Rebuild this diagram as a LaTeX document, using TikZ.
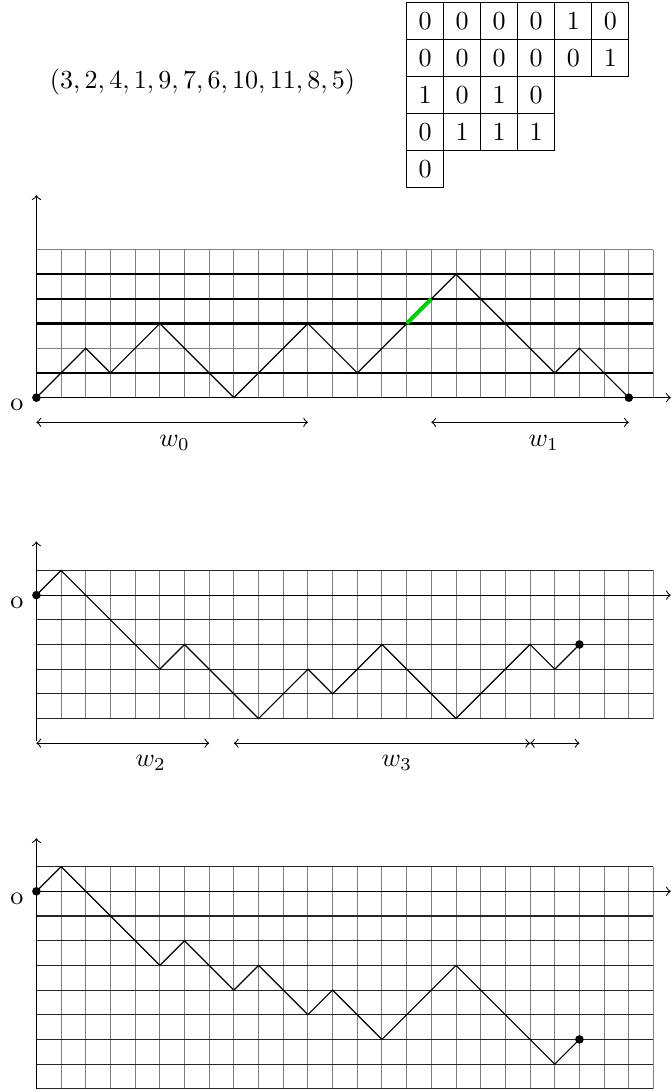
\documentclass[tikz,border=0pt]{standalone}
\usepackage{amsmath,amssymb}
\usepackage{tikz}
\usetikzlibrary{calc}

\begin{document}
\begin{tikzpicture}[
  x=0.33333cm, y=0.33333cm,
  >=to,
  gridv/.style={black!50,line width=0.4pt},
  gridh/.style={black!85,line width=0.4pt},
  heavy/.style={black,line width=0.85pt},
  walk/.style={black,line width=0.45pt},
  hit/.style={green!80!black,line width=1.6pt},
  axisline/.style={->,black,line width=0.4pt},
  spanarr/.style={<->,black,line width=0.4pt},
  cell/.style={draw,minimum size=5mm,inner sep=0pt,outer sep=0pt},
  ptdot/.style={circle,fill=black,inner sep=0pt,minimum size=3.3pt},
]
\useasboundingbox (-1.475,-28.09) rectangle (25.71,16.11);
% ---------- permutation and its table ----------
\node (seq) at (6.73,12.8) {$(3,2,4,1,9,7,6,10,11,8,5)$};
\foreach \r/\row in {1/{0,0,0,0,1,0},2/{0,0,0,0,0,1},3/{1,0,1,0},4/{0,1,1,1},5/{0}}
  \foreach \e [count=\c] in \row
    \node[cell] (t\r\c) at (14.25+1.5*\c,16.75-1.5*\r) {$\e$};
% ---------- first path ----------
\foreach \i in {0,...,25} \draw[gridv] (\i,0) -- (\i,6);
\foreach \j in {2,6} \draw[gridv] (0,\j) -- (25,\j);
\foreach \j in {1,3,4,5} \draw[heavy] (0,\j) -- (25,\j);
\draw[axisline] (0,0) -- (25.7,0);
\draw[axisline] (0,0) -- (0,8.2);
\draw[walk] (0,0) -- (2,2) -- (3,1) -- (5,3) -- (8,0) -- (11,3) -- (13,1)
  -- (17,5) -- (21,1) -- (22,2) -- (24,0);
\draw[hit] (15,3) -- (16,4);
\node[ptdot] (a0) at (0,0) {};
\node[ptdot] (a1) at (24,0) {};
\node (o1) at (-0.79,-0.3) {o};
\draw[spanarr] (0,-1) -- (11,-1);
\draw[spanarr] (16,-1) -- (24,-1);
\node (w0) at (5.6,-1.85) {$w_0$};
\node (w1) at (20.55,-1.85) {$w_1$};
% ---------- second path ----------
\begin{scope}[shift={(0,-8)}]
\foreach \i in {0,...,25} \draw[gridv] (\i,-5) -- (\i,1);
\foreach \j in {-5,...,1} \draw[gridh] (0,\j) -- (25,\j);
\draw[axisline] (0,0) -- (25.7,0);
\draw[axisline] (0,-5.9) -- (0,2.17);
\draw[walk] (0,0) -- (1,1) -- (5,-3) -- (6,-2) -- (9,-5) -- (11,-3) -- (12,-4)
  -- (14,-2) -- (17,-5) -- (20,-2) -- (21,-3) -- (22,-2);
\node[ptdot] (b0) at (0,0) {};
\node[ptdot] (b1) at (22,-2) {};
\node (o2) at (-0.79,-0.3) {o};
\draw[spanarr] (0,-6) -- (7,-6);
\draw[spanarr] (8,-6) -- (20,-6);
\draw[spanarr] (20,-6) -- (22,-6);
\node (w2) at (4.63,-6.8) {$w_2$};
\node (w3) at (14.6,-6.8) {$w_3$};
\end{scope}
% ---------- third path ----------
\begin{scope}[shift={(0,-20)}]
\foreach \i in {0,...,25} \draw[gridv] (\i,-8) -- (\i,1);
\foreach \j in {-8,...,1} \draw[gridh] (0,\j) -- (25,\j);
\draw[axisline] (0,0) -- (25.7,0);
\draw[axisline] (0,-8) -- (0,2.15);
\draw[walk] (0,0) -- (1,1) -- (5,-3) -- (6,-2) -- (8,-4) -- (9,-3) -- (11,-5)
  -- (12,-4) -- (14,-6) -- (17,-3) -- (21,-7) -- (22,-6);
\node[ptdot] (c0) at (0,0) {};
\node[ptdot] (c1) at (22,-6) {};
\node (o3) at (-0.79,-0.3) {o};
\end{scope}
\end{tikzpicture}
\end{document}
